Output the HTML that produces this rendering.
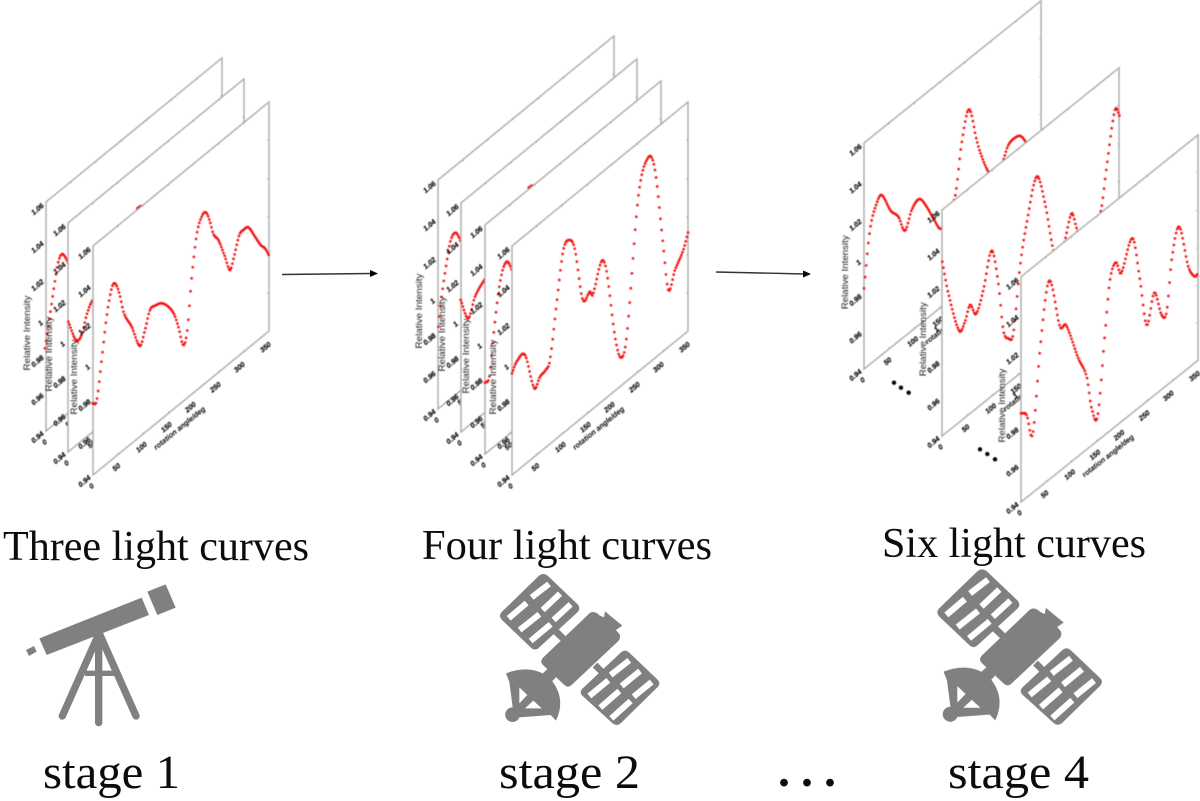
<!DOCTYPE html>
<html>
<head>
<meta charset="utf-8">
<style>
html,body{margin:0;padding:0;background:#fff;width:1200px;height:801px;overflow:hidden}
svg{display:block}
.big{font-family:"Liberation Serif",serif;fill:#0c0c0c}
.t{font:italic bold 7.2px "Liberation Sans",sans-serif;fill:#000;text-anchor:middle;stroke:#000;stroke-width:.15}
.yl{font:9px "Liberation Sans",sans-serif;fill:#222;text-anchor:middle}
.xl{font:italic bold 7.5px "Liberation Sans",sans-serif;fill:#000;text-anchor:middle}
.c{fill:none;stroke:#f51010;stroke-width:8;stroke-linecap:round;stroke-linejoin:round}
.chart{filter:blur(.5px)}
.icon{filter:blur(.35px)}
</style>
</head>
<body>
<svg width="1200" height="801" viewBox="0 0 1200 801" xmlns="http://www.w3.org/2000/svg">
<defs>
<g id="panel">
  <path d="M0,0V-229L176,-373V-144Z" fill="#fff" stroke="#aaa" stroke-width="1.4"/>
  <path d="M25,-20.600v-1.500M50,-41v-1.500M75.500,-62v-1.500M100.500,-82v-1.500M125.700,-103v-1.500M151,-123.500v-1.500M25,-249.500v1.800M50,-270v1.800M75.500,-291v1.800M100.500,-311.500v1.800M125.700,-332v1.800M151,-353v1.800M176,-182h-1.800M176,-220h-1.800M176,-258h-1.800M176,-296h-1.800M176,-335h-1.800" stroke="#999" stroke-width=".8" fill="none"/>
  <g class="t">
    <text transform="translate(-7,-220) rotate(-40)">1.06</text>
    <text transform="translate(-7,-182) rotate(-40)">1.04</text>
    <text transform="translate(-7,-144) rotate(-40)">1.02</text>
    <text transform="translate(-4,-106) rotate(-40)">1</text>
    <text transform="translate(-7,-68) rotate(-40)">0.98</text>
    <text transform="translate(-7,-30) rotate(-40)">0.96</text>
    <text transform="translate(-7,8) rotate(-40)">0.94</text>
    <text transform="translate(0,13) rotate(-40)">0</text>
    <text transform="translate(25,-6) rotate(-40)">50</text>
    <text transform="translate(50,-26) rotate(-40)">100</text>
    <text transform="translate(75,-46) rotate(-40)">150</text>
    <text transform="translate(99,-66) rotate(-40)">200</text>
    <text transform="translate(124,-86) rotate(-40)">250</text>
    <text transform="translate(148,-106) rotate(-40)">300</text>
    <text transform="translate(174,-126) rotate(-40)">350</text>
  </g>
  <text class="yl" transform="translate(-16,-98) rotate(-90)" textLength="75" lengthAdjust="spacingAndGlyphs">Relative Intensity</text>
  <text class="xl" transform="translate(88,-45) rotate(-39)" textLength="64" lengthAdjust="spacingAndGlyphs">rotation angle/deg</text>
</g>
<g id="sat" fill="#808080">
  <path d="M190,42 Q197,42 204,48 L292,132 Q304,145 292,157 L178,262 Q165,275 152,262 L66,180 Q54,167 66,155 L176,48 Q183,42 190,42Z"/>
  <path d="M435,272 Q442,272 449,279 L532,358 Q544,370 532,382 L422,490 Q410,500 398,490 L308,408 Q296,397 308,385 L421,279 Q428,272 435,272Z"/>
  <path d="M338,156 Q350,156 358,166 L372,172 L375,154 L427,197 L408,210 L418,222 Q424,234 414,244 L276,374 Q264,386 252,374 L190,316 Q178,304 190,292 L322,166 Q330,156 338,156Z"/>
  <path d="M232,204 L258,230 L244,244 L218,220Z"/>
  <path d="M352,308 L374,330 L360,344 L338,322Z"/>
  <path d="M186,342 L204,326 L228,352 L212,368Z"/>
  <path d="M78,340 Q150,312 205,350 Q262,410 228,482 L212,465 L118,472 A22,22 0 1 1 98,442 L88,366Z"/>
  <g fill="none" stroke="#fff" stroke-width="18" stroke-linecap="butt">
    <path d="M155,112L207,72M188,150L240,101M221,180L272,133M86,175L140,129M119,210L178,163M152,243L212,193"/>
    <path d="M392,345L448,301M425,378L480,333M461,410L515,366M328,408L385,361M361,443L418,393M394,475L452,423"/>
  </g>
  <path d="M118,382L142,405L118,430Z M135,445L160,422L185,445Z" fill="#fff"/>
</g>
</defs>

<g class="chart">
<!-- Stage 1 -->
<use href="#panel" x="46" y="431"/>
<g transform="translate(0,40) scale(.33333)">
  <path class="c" d="M135,925L150,825L170,690L178,655L187,642L196,652L205,670"/>
</g>
<use href="#panel" x="68" y="452"/>
<g transform="translate(0,40) scale(.33333)">
  <path class="c" d="M205,845L228,900L245,885L260,825L275,785L290,770"/>
  <path class="c" d="M412,505L424,497"/>
</g>
<use href="#panel" x="93" y="475"/>
<g transform="translate(0,40) scale(.33333)">
  <path class="c" d="M278,1090L290,1082L305,960L320,830L335,745L345,730L358,760L372,820L395,860L420,918L435,870L450,810L465,797L485,790L505,800L522,822L535,860L550,915L562,870L575,715L590,585L605,530L618,517L630,545L640,582L655,600L675,650L690,690L702,650L718,585L730,570L745,562L765,590L782,615L795,625L808,648"/>
</g>

<!-- Stage 2 -->
<use href="#panel" x="438" y="409"/>
<g transform="translate(400,30) scale(.33333)">
  <path class="c" d="M115,890L125,800L145,665L155,622L167,608L176,620L182,635"/>
</g>
<use href="#panel" x="461" y="432"/>
<g transform="translate(400,30) scale(.33333)">
  <path class="c" d="M182,810L205,865L225,800L253,750L270,730"/>
  <path class="c" d="M386,473L398,465"/>
</g>
<use href="#panel" x="485" y="454"/>
<g transform="translate(400,30) scale(.33333)">
  <path class="c" d="M255,1058L268,1040L280,920L295,790L308,720L320,695L328,702L335,720"/>
</g>
<use href="#panel" x="512" y="475"/>
<g transform="translate(400,30) scale(.33333)">
  <path class="c" d="M336,1030L350,995L375,975L403,1075L420,1040L437,1020L450,990L470,820L490,660L510,630L525,660L548,808L570,785L578,795L605,693L620,725L645,920L663,983L680,920L715,500L745,382L765,420L790,650L805,780L825,720L850,660L866,600"/>
</g>

<!-- Stage 4 -->
<use href="#panel" transform="translate(864,369) scale(1.006,.987)"/>
<g transform="translate(820,0) scale(.33333)">
  <path class="c" d="M132,865L150,690L170,610L185,585L212,632L235,650L255,692L275,630L298,597L320,620L340,655L365,685L405,590L425,430L447,328L470,420L480,455L505,515L530,530L550,480L565,435L590,410L605,410L620,430"/>
</g>
<use href="#panel" transform="translate(942,436) scale(1.006,.987)"/>
<g transform="translate(820,0) scale(.33333)">
  <path class="c" d="M367,785L385,880L418,993L435,965L450,915L468,942L490,870L515,752L535,850L550,990L565,1015L580,1000L600,800L620,670L650,530L675,610L700,750L718,780L735,720L755,640L770,685L800,760L843,630L860,500L885,330L900,350"/>
</g>
<use href="#panel" transform="translate(1021,502) scale(1.006,.984)"/>
<g transform="translate(820,0) scale(.33333)">
  <path class="c" d="M603,1240L620,1245L638,1302L660,1050L680,870L693,847L720,980L738,975L775,1075L800,1130L815,1225L833,1247L855,1000L870,840L888,787L903,820L938,715L960,840L980,975L1003,878L1025,945L1040,935L1055,780L1077,680L1105,800L1125,830L1133,820"/>
  <circle cx="222" cy="1148" r="6.500" fill="#000"/><circle cx="243" cy="1163" r="6.500" fill="#000"/><circle cx="266" cy="1178" r="6.500" fill="#000"/>
  <circle cx="480" cy="1348" r="6.500" fill="#000"/><circle cx="502" cy="1362" r="6.500" fill="#000"/><circle cx="525" cy="1378" r="6.500" fill="#000"/>
</g>
</g>

<!-- Arrows -->
<g stroke="#333" stroke-width="1.4" fill="#000">
  <path d="M282,274.500L372,273.500" fill="none"/>
  <path d="M370,270L378,273.500L370,277Z" stroke="none"/>
  <path d="M716,272L805,274" fill="none"/>
  <path d="M803,270.500L811,274L803,277.500Z" stroke="none"/>
</g>

<!-- Captions -->
<text class="big" x="3" y="560" font-size="42" textLength="306" lengthAdjust="spacingAndGlyphs">Three light curves</text>
<text class="big" x="422" y="559" font-size="42" textLength="290" lengthAdjust="spacingAndGlyphs">Four light curves</text>
<text class="big" x="882" y="557" font-size="42" textLength="264" lengthAdjust="spacingAndGlyphs">Six light curves</text>

<!-- Telescope -->
<g class="icon" transform="translate(0,560) scale(.33333)" fill="#808080">
  <path d="M118,235L425,113L447,165L140,285Z"/>
  <path d="M442,95L497,73L527,143L472,165Z"/>
  <path d="M78,270L102,258L110,275L87,288Z"/>
  <g fill="none" stroke="#808080" stroke-linecap="round" stroke-width="22">
    <path d="M295,225L187,468M300,225L408,468M296,225V488"/>
    <path d="M255,340H345" stroke-width="16" stroke-linecap="butt"/>
  </g>
</g>

<!-- Satellites -->
<g class="icon" transform="translate(480,560) scale(.33333)"><use href="#sat"/></g>
<g class="icon" transform="translate(920,560) scale(.33333)"><use href="#sat" transform="matrix(1.033,0,0,1.03,-9.900,-15.300)"/></g>

<!-- Stage labels -->
<text class="big" x="43" y="788" font-size="48" textLength="137" lengthAdjust="spacingAndGlyphs">stage 1</text>
<text class="big" x="499" y="788" font-size="48" textLength="141" lengthAdjust="spacingAndGlyphs">stage 2</text>
<text class="big" x="948" y="788" font-size="48" textLength="141" lengthAdjust="spacingAndGlyphs">stage 4</text>
<text class="big" x="778" y="786" font-size="48" font-weight="bold" textLength="58" lengthAdjust="spacing">...</text>
</svg>
<script>
document.querySelectorAll('path.c').forEach(function(p){
  var n=p.getAttribute('d').match(/[\d.]+/g).map(Number),X=[],Y=[],i;
  for(i=0;i<n.length;i+=2){X.push(n[i]);Y.push(n[i+1]);}
  var N=X.length,M=[];
  for(i=0;i<N;i++){
    var a=Math.max(i-1,0),b=Math.min(i+1,N-1);
    M.push((Y[b]-Y[a])/(X[b]-X[a]));
  }
  var d='',s=0,step=3.3;
  for(var x=X[0];x<=X[N-1];x+=step){
    while(s<N-2&&x>X[s+1])s++;
    var h=X[s+1]-X[s],t=(x-X[s])/h,t2=t*t,t3=t2*t;
    var y=(2*t3-3*t2+1)*Y[s]+(t3-2*t2+t)*h*M[s]+(-2*t3+3*t2)*Y[s+1]+(t3-t2)*h*M[s+1];
    d+='M'+x.toFixed(1)+','+y.toFixed(1)+'h.01';
  }
  p.setAttribute('d',d);
});
</script>
</body>
</html>
